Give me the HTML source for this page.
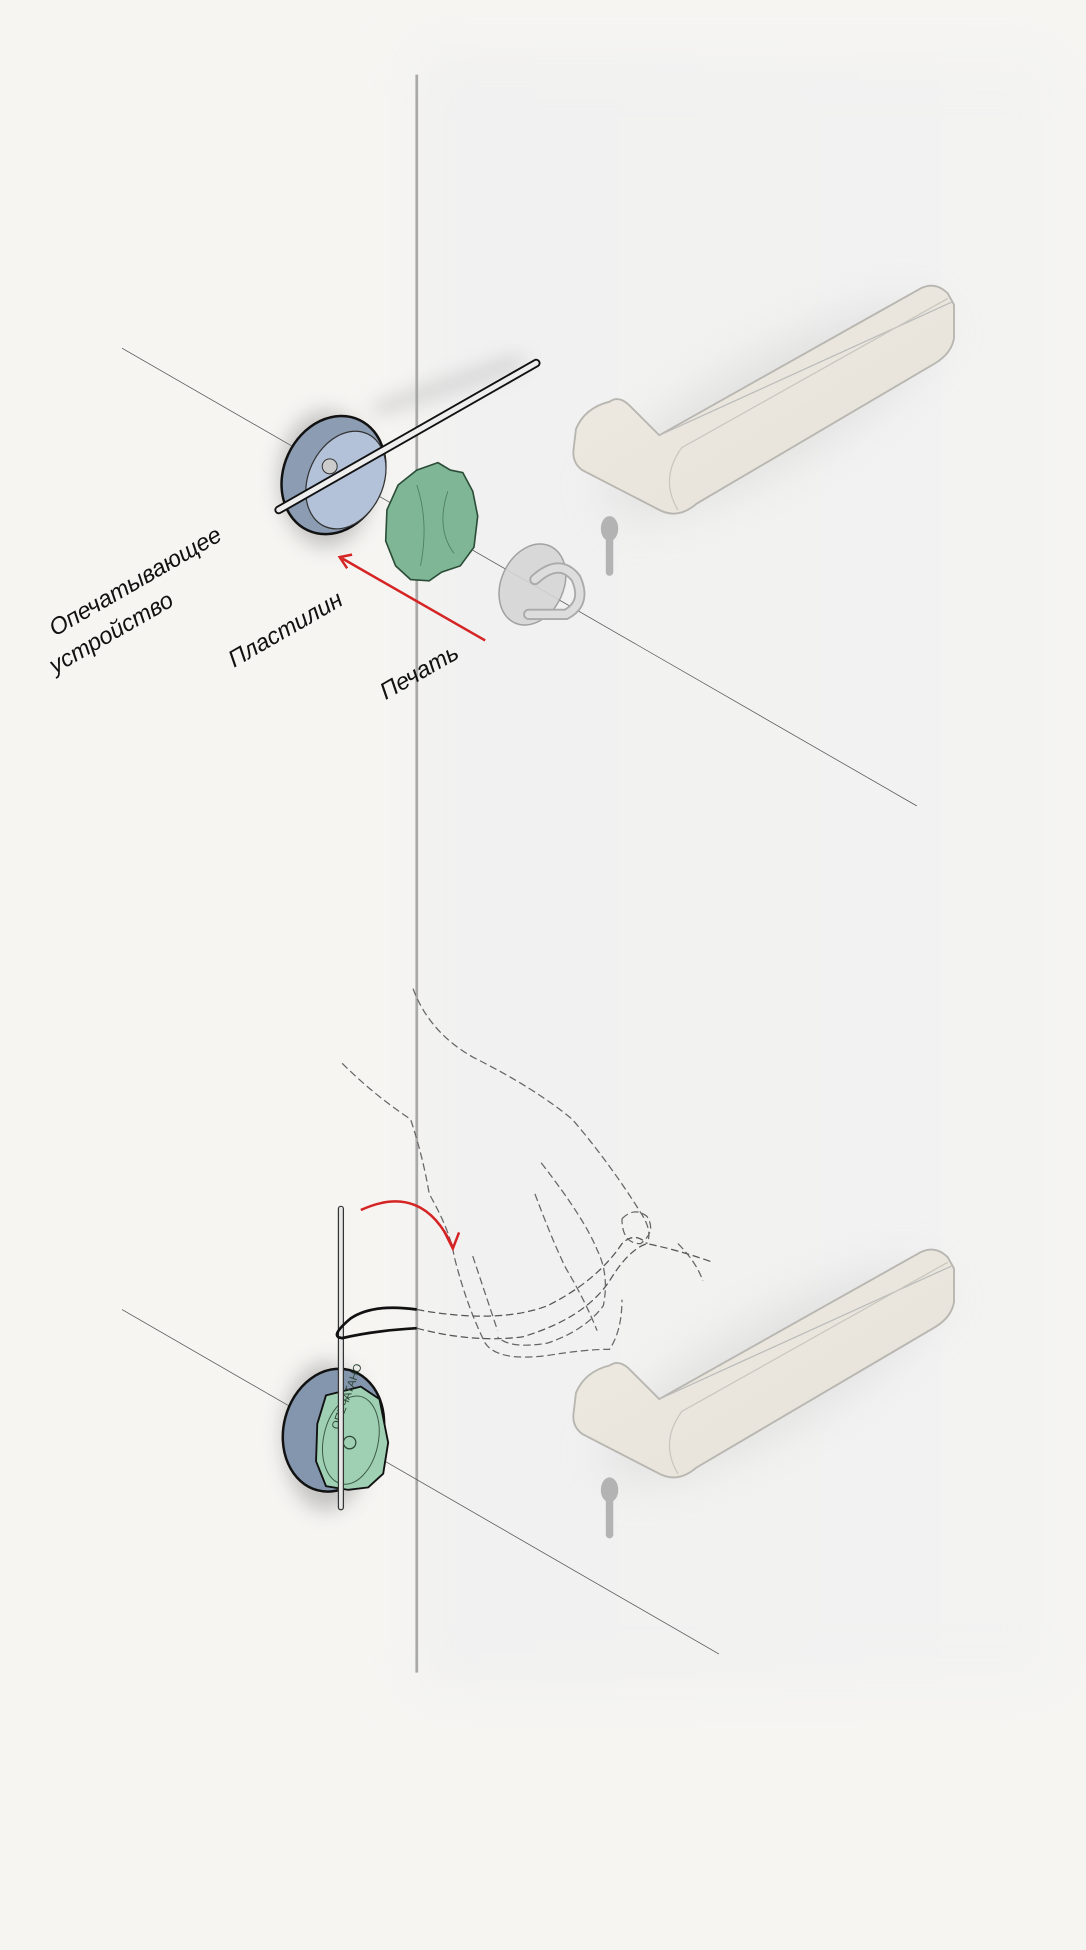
<!DOCTYPE html>
<html><head><meta charset="utf-8"><style>
html,body{margin:0;padding:0;background:#f6f5f2;}
svg{display:block;}
</style></head><body>
<svg width="1086" height="1950" viewBox="0 0 873 1568" xmlns="http://www.w3.org/2000/svg">
<defs>
<filter id="b8" x="-50%" y="-50%" width="200%" height="200%"><feGaussianBlur stdDeviation="8"/></filter>
<filter id="b20" x="-50%" y="-50%" width="200%" height="200%"><feGaussianBlur stdDeviation="20"/></filter>
<linearGradient id="door" x1="0" y1="0" x2="1" y2="0"><stop offset="0" stop-color="#f1f1f1"/><stop offset="1" stop-color="#f3f3f2"/></linearGradient>
<linearGradient id="hnd" x1="0" y1="0" x2="1" y2="1"><stop offset="0" stop-color="#efebe3"/><stop offset="1" stop-color="#e5e1d8"/></linearGradient>
</defs>
<rect width="873" height="1568" fill="#f6f5f2"/>
<rect x="335" y="40" width="520" height="1320" fill="url(#door)" filter="url(#b20)"/>
<!-- door edge -->
<line x1="335" y1="60" x2="335" y2="1345" stroke="#a9a9a9" stroke-width="2.2"/>

<!-- TOP SECTION -->
<line x1="98" y1="280" x2="737" y2="648" stroke="#555" stroke-width="0.6"/>
<!-- shadow -->
<ellipse cx="262" cy="385" rx="38" ry="55" fill="#888" opacity="0.45" filter="url(#b8)"/>
<line x1="300" y1="330" x2="420" y2="290" stroke="#999" stroke-width="8" opacity="0.5" filter="url(#b8)"/>
<!-- device -->
<ellipse cx="268" cy="382" rx="40" ry="49" transform="rotate(25 268 382)" fill="#8c9cb2" stroke="#111" stroke-width="2"/>
<ellipse cx="278" cy="386" rx="30" ry="41" transform="rotate(25 278 386)" fill="#b3c2d8" stroke="#333" stroke-width="1"/>
<circle cx="265" cy="375" r="6" fill="#ccc" stroke="#333" stroke-width="0.8"/>
<!-- rod -->
<line x1="224" y1="410" x2="431" y2="292" stroke="#111" stroke-width="7" stroke-linecap="round"/>
<line x1="224" y1="410" x2="431" y2="292" stroke="#eee" stroke-width="4" stroke-linecap="round"/>
<!-- green blob -->
<path d="M352 372 L362 378 L372 380 L380 395 L384 415 L381 440 L370 455 L355 460 L345 467 L330 466 L318 455 L310 435 L311 410 L320 390 L335 378 Z" fill="#7fb696" stroke="#2b4d38" stroke-width="1.3"/>
<path d="M335 390 Q345 420 338 455 M360 395 Q350 425 365 445" stroke="#4f7d62" stroke-width="0.7" fill="none"/>
<!-- seal -->
<ellipse cx="428" cy="470" rx="25" ry="34" transform="rotate(25 428 470)" fill="#d6d6d6" stroke="#999" stroke-width="1.2" opacity="0.9"/>
<path d="M430 466 Q450 448 463 465 Q472 485 455 494 L425 494" fill="none" stroke="#aaa" stroke-width="9" stroke-linecap="round"/>
<path d="M430 466 Q450 448 463 465 Q472 485 455 494 L425 494" fill="none" stroke="#ddd" stroke-width="6" stroke-linecap="round"/>
<!-- red arrow -->
<line x1="390" y1="515" x2="275" y2="449" stroke="#d52424" stroke-width="2"/>
<path d="M283 446 L273 448 L279 457" fill="none" stroke="#d52424" stroke-width="2"/>
<!-- labels -->
<g font-family="Liberation Sans, sans-serif" font-size="19" font-style="italic" fill="#111">
<text transform="translate(44 512) rotate(-30)">Опечатывающее</text>
<text transform="translate(44 542) rotate(-30)">устройство</text>
<text transform="translate(188 537) rotate(-30)">Пластилин</text>
<text transform="translate(310 563) rotate(-30)">Печать</text>
</g>
<!-- handle top -->
<g id="handle">
<ellipse cx="620" cy="330" rx="150" ry="40" transform="rotate(-30 620 330)" fill="#bbb" opacity="0.35" filter="url(#b20)"/>
<path d="M490 323 Q497 318 505 325 L530 350 L740 232 Q752 226 762 236 L767 245 L767 272 Q765 284 752 292 L560 405 Q545 418 530 410 L468 378 Q460 372 461 362 L463 345 Q470 328 490 323 Z" fill="url(#hnd)" stroke="#b8b6b0" stroke-width="1.5"/>
<path d="M530 350 L765 243" stroke="#bbb" stroke-width="1" fill="none"/>
<path d="M545 410 Q530 385 548 360 L762 240" stroke="#c9c6bf" stroke-width="1" fill="none"/>
</g>
<!-- keyhole top -->
<ellipse cx="490" cy="425" rx="7" ry="10" fill="#b3b3b3"/>
<rect x="487" y="428" width="6" height="35" rx="3" fill="#b3b3b3"/>

<!-- BOTTOM SECTION -->
<line x1="98" y1="1053" x2="578" y2="1330" stroke="#555" stroke-width="0.6"/>
<ellipse cx="262" cy="1155" rx="35" ry="60" fill="#888" opacity="0.45" filter="url(#b8)"/>
<ellipse cx="268" cy="1150" rx="40" ry="50" transform="rotate(15 268 1150)" fill="#8496ad" stroke="#111" stroke-width="2"/>
<path d="M262 1122 L290 1115 L305 1125 L312 1160 L308 1185 L296 1196 L280 1198 L262 1195 L254 1175 L255 1145 Z" fill="#9fd0b3" stroke="#111" stroke-width="1.5"/>
<ellipse cx="282" cy="1158" rx="22" ry="36" transform="rotate(12 282 1158)" fill="none" stroke="#3b5a47" stroke-width="0.8"/>
<text x="272" y="1150" font-family="Liberation Sans, sans-serif" font-size="9" fill="#2d4536" transform="rotate(-70 272 1150)">ОПЕЧАТАНО</text>
<circle cx="281" cy="1160" r="5" fill="none" stroke="#2d4536" stroke-width="1"/>
<!-- rod vertical -->
<line x1="274" y1="972" x2="274" y2="1212" stroke="#333" stroke-width="5" stroke-linecap="round"/>
<line x1="274" y1="972" x2="274" y2="1212" stroke="#e8e8e8" stroke-width="3" stroke-linecap="round"/>
<!-- cord -->
<path d="M335 1053 Q300 1048 282 1060 Q264 1075 275 1076 Q300 1070 335 1068" fill="none" stroke="#111" stroke-width="2.2"/>
<path d="M335 1053 Q400 1065 440 1050 Q480 1030 500 1000 Q510 990 520 1000 M335 1068 Q380 1080 420 1075 Q470 1060 490 1030 Q505 1005 520 1000 Q545 1005 573 1015" fill="none" stroke="#555" stroke-width="1" stroke-dasharray="6 3"/>
<!-- hand dashed -->
<g fill="none" stroke="#666" stroke-width="1" stroke-dasharray="6 3">
<path d="M332 795 Q345 830 380 850 Q430 875 460 900 Q490 935 515 975 Q525 990 520 1000"/>
<path d="M275 855 Q300 880 330 900 Q340 930 345 960 Q362 990 365 1010 Q375 1050 390 1080 Q400 1095 440 1090 Q470 1085 490 1085 Q500 1070 500 1045"/>
<path d="M435 935 Q470 980 480 1005 Q490 1025 485 1050 Q470 1070 440 1080 Q410 1085 400 1075"/>
<path d="M500 980 Q510 970 520 978 Q528 990 515 1000 Q500 1000 500 980"/>
<path d="M380 1010 Q390 1040 400 1070 M430 960 Q445 1000 455 1020 Q470 1045 480 1070"/>
<path d="M545 1000 Q560 1015 565 1030"/>
</g>
<!-- red curved arrow -->
<path d="M290 973 Q340 950 364 1003" fill="none" stroke="#d52424" stroke-width="2"/>
<path d="M357 990 L364 1004 L369 991" fill="none" stroke="#d52424" stroke-width="2"/>
<!-- handle bottom -->
<use href="#handle" transform="translate(0 775)"/>
<ellipse cx="490" cy="1198" rx="7" ry="10" fill="#b3b3b3"/>
<rect x="487" y="1201" width="6" height="36" rx="3" fill="#b3b3b3"/>
</svg>
</body></html>
